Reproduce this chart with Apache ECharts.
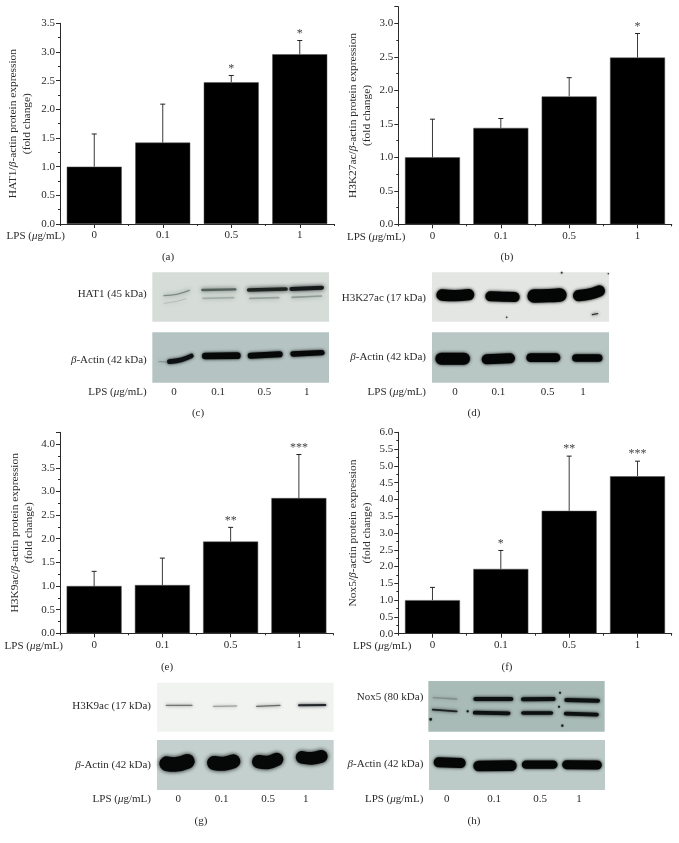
<!DOCTYPE html>
<html><head><meta charset="utf-8">
<style>html,body{margin:0;padding:0;background:#fff}#c{width:679px;height:843px}</style>
<script src="https://cdn.jsdelivr.net/npm/echarts@6/dist/echarts.min.js"></script>
</head><body><div id="c"></div>
<script>
// ---- data ----
const doses = ['0', '0.1', '0.5', '1'];

const hat1Means = [1.0, 1.42, 2.47, 2.96];
const hat1Tops  = [1.57, 2.09, 2.59, 3.2];
const hat1Stars = ['', '', '*', '*'];

const h3k27Means = [1.0, 1.44, 1.91, 2.49];
const h3k27Tops  = [1.57, 1.58, 2.19, 2.85];
const h3k27Stars = ['', '', '', '*'];

const h3k9Means = [1.0, 1.02, 1.94, 2.86];
const h3k9Tops  = [1.31, 1.59, 2.24, 3.78];
const h3k9Stars = ['', '', '**', '***'];

const nox5Means = [1.0, 1.93, 3.66, 4.69];
const nox5Tops  = [1.38, 2.48, 5.29, 5.14];
const nox5Stars = ['', '*', '**', '***'];

// ---- layout ----
const FONT = '"Liberation Serif","DejaVu Serif",serif';
const INK = '#2a2a2a';
const panels = [
  {name:'HAT1',  means:hat1Means,  tops:hat1Tops,  stars:hat1Stars,  max:3.5,  left:60,    top:23.3,  w:274,   h:200.7, lpsGap:-5, titleGap:26},
  {name:'H3K27ac',means:h3k27Means,tops:h3k27Tops, stars:h3k27Stars, max:3.25, left:398.3, top:6.7,   w:273.4, h:217.6, lpsGap:-7, titleGap:24},
  {name:'H3K9ac',means:h3k9Means,  tops:h3k9Tops,  stars:h3k9Stars,  max:4.25, left:60,    top:432.3, w:273,   h:201,   lpsGap:-3, titleGap:24},
  {name:'Nox5',  means:nox5Means,  tops:nox5Tops,  stars:nox5Stars,  max:6,    left:398.3, top:432.3, w:273.4, h:201.4, lpsGap:-13, titleGap:24}
];

const grid = [], xAxis = [], yAxis = [], series = [];
panels.forEach((p, i) => {
  grid.push({left:p.left, top:p.top, width:p.w, height:p.h, containLabel:false});
  const base = {
    type:'category', gridIndex:i, data:doses, position:'bottom',
    axisLine:{show:true, onZero:false, lineStyle:{color:INK, width:1}}
  };
  xAxis.push(Object.assign({}, base, {
    axisTick:{show:true, alignWithLabel:true, length:4, lineStyle:{color:INK}},
    axisLabel:{color:INK, fontFamily:FONT, fontSize:11, margin:6},
    name:'{t|LPS (}{i|\u03bc}{t|g/mL)}',
    nameLocation:'start', nameGap:p.lpsGap,
    nameTextStyle:{
      verticalAlign:'top', padding:[7,0,0,0],
      rich:{t:{fontFamily:FONT,fontSize:11,color:INK}, i:{fontFamily:FONT,fontSize:11,fontStyle:'italic',color:INK}}
    }
  }));
  xAxis.push(Object.assign({}, base, {
    axisTick:{show:true, alignWithLabel:false, length:2, lineStyle:{color:INK}},
    axisLabel:{show:false}
  }));
  const rich = {t:{fontFamily:FONT,fontSize:11.4,color:INK,lineHeight:14}, i:{fontFamily:FONT,fontSize:11.4,fontStyle:'italic',color:INK,lineHeight:14}};
  yAxis.push({
    type:'value', gridIndex:i, min:0, max:p.max, interval:0.5,
    splitLine:{show:false},
    axisLine:{show:true, lineStyle:{color:INK, width:1}},
    axisTick:{show:true, length:4, lineStyle:{color:INK}},
    minorTick:{show:true, splitNumber:2, length:2, lineStyle:{color:INK}},
    axisLabel:{color:INK, fontFamily:FONT, fontSize:11, margin:5,
      formatter:v => (Math.abs(v*2-Math.round(v*2))<1e-6 ? v.toFixed(1) : '')},
    name:'{t|'+p.name+'/}{i|\u03b2}{t|-actin protein expression}\n{t|(fold change)}',
    nameLocation:'middle', nameRotate:90, nameGap:p.titleGap,
    nameTextStyle:{rich:rich, align:'center'}
  });
  series.push({
    type:'bar', xAxisIndex:i*2, yAxisIndex:i, data:p.means, barWidth:55,
    itemStyle:{color:'#000', borderColor:'#555', borderWidth:0.5}, silent:true
  });
  series.push({
    type:'custom', xAxisIndex:i*2, yAxisIndex:i, silent:true, clip:false, z:3,
    data:p.tops.map((t,k)=>[k,t,p.means[k]]),
    renderItem:(params, api) => {
      const k = api.value(0);
      const a = api.coord([k, api.value(1)]);
      const b = api.coord([k, api.value(2)]);
      const kids = [
        {type:'line', shape:{x1:a[0],y1:a[1],x2:b[0],y2:b[1]}, style:{stroke:'#3a3a3a',lineWidth:1}},
        {type:'line', shape:{x1:a[0]-2.5,y1:a[1],x2:a[0]+2.5,y2:a[1]}, style:{stroke:'#222',lineWidth:1}}
      ];
      if (p.stars[k]) kids.push({type:'text', style:{text:p.stars[k], x:a[0], y:a[1]-1, align:'center', verticalAlign:'bottom',
        font:'12px '+FONT, fill:'#444'}});
      return {type:'group', children:kids};
    }
  });
});

// ---- photographed western-blot panels, painted as soft strokes ----
const graphic = [];
function panel(ox, oy, x0, y0, x1, y1, color){
  graphic.push({type:'rect', silent:true, z:1, shape:{x:ox+x0/3,y:oy+y0/3,width:(x1-x0)/3,height:(y1-y0)/3}, style:{fill:color}});
}
function band(ox, oy, pts, w, color, blur){
  graphic.push({type:'polyline', silent:true, z:2, shape:{points:pts.map(q=>[ox+q[0]/3,oy+q[1]/3]), smooth:pts.length>2?0.4:0},
    style:{fill:null, stroke:color, lineWidth:w/3, lineCap:'round', lineJoin:'round', shadowBlur:blur*2.2, shadowColor:color}});
}
function speck(ox, oy, x, y, r, color){
  graphic.push({type:'circle', silent:true, z:2, shape:{cx:ox+x/3,cy:oy+y/3,r:r}, style:{fill:color, shadowBlur:1.5, shadowColor:color}});
}
function label(x, y, parts, align){
  graphic.push({type:'text', silent:true, z:4, x:x, y:y, style:{rich:{t:{fontFamily:FONT,fontSize:11,fill:INK},i:{fontFamily:FONT,fontSize:11,fontStyle:'italic',fill:INK}},
    text:parts, align:align||'right', verticalAlign:'middle'}});
}
function caption(x, y, s){ label(x, y, '{t|'+s+'}', 'center'); }
const actinLabel = '{i|\u03b2}{t|-Actin (42 kDa)}';
const lpsLabel = '{t|LPS (}{i|\u03bc}{t|g/mL)}';
function laneLabels(ox, y, xs){ xs.forEach((x,k)=>label(ox+x/3, y, '{t|'+doses[k]+'}', 'center')); }

// (c)
let ox=0, oy=265;
panel(ox,oy,457,22,987,170,'#d6dcd8');
band(ox,oy,[[492,92],[530,88],[568,76]],4,'#7d8a86',2);
band(ox,oy,[[492,115],[525,110],[558,101]],3,'#b4bdb9',2);
band(ox,oy,[[607,75],[706,73]],7,'#54605c',2);
band(ox,oy,[[609,100],[701,98]],5,'#a4aeaa',2);
band(ox,oy,[[746,75],[858,72]],11,'#1c2220',2);
band(ox,oy,[[749,100],[836,98]],5,'#98a39f',2);
band(ox,oy,[[874,72],[966,68]],12,'#15191a',2);
band(ox,oy,[[876,97],[964,93]],5,'#8f9a96',2);
panel(ox,oy,457,202,987,353,'#b5c4c2');
band(ox,oy,[[477,290],[498,291]],3,'#7f8c8a',2);
band(ox,oy,[[508,290],[545,284],[574,273]],14,'#0c1010',1.5);
band(ox,oy,[[616,273],[712,272]],20,'#070909',1.5);
band(ox,oy,[[752,272],[839,268]],18,'#070909',1.5);
band(ox,oy,[[879,267],[966,263]],16,'#070909',1.5);
label(146.7,293.7,'{t|HAT1 (45 kDa)}'); label(146.7,360,actinLabel); label(146.7,391.7,lpsLabel);
laneLabels(0,391.7,[522,654,793,920]); caption(198,412.7,'(c)');

// (d)
ox=340; oy=265;
panel(ox,oy,276,22,807,170,'#e3e6e3');
band(ox,oy,[[306,90],[345,92],[386,89]],34,'#040505',1.5);
band(ox,oy,[[451,94],[490,95],[524,96]],30,'#040505',1.5);
band(ox,oy,[[582,93],[625,92],[660,90]],40,'#040505',1.5);
band(ox,oy,[[716,92],[750,87],[778,78]],34,'#040505',1.5);
band(ox,oy,[[757,149],[773,146]],4,'#333',1.5);
speck(ox,oy,500,157,0.8,'#444'); speck(ox,oy,665,23,0.9,'#333'); speck(ox,oy,805,26,0.7,'#333');
panel(ox,oy,276,202,807,353,'#b9c7c4');
band(ox,oy,[[304,281],[372,281]],36,'#040505',1.5);
band(ox,oy,[[440,283],[510,280]],30,'#040505',1.5);
band(ox,oy,[[572,278],[648,278]],26,'#040505',1.5);
band(ox,oy,[[708,279],[776,279]],23,'#040505',1.5);
label(426,297.7,'{t|H3K27ac (17 kDa)}'); label(426,357.3,actinLabel); label(426,391.7,lpsLabel);
laneLabels(340,391.7,[345,475,623,729]); caption(474,412.7,'(d)');

// (g)
ox=0; oy=670;
panel(ox,oy,471,38,1001,185,'#f1f3f1');
band(ox,oy,[[499,106],[576,106]],4,'#6f7573',1.5);
band(ox,oy,[[640,109],[710,108]],3,'#8b918f',1.5);
band(ox,oy,[[770,109],[840,106]],4,'#666c6a',1.5);
band(ox,oy,[[897,106],[976,105]],6,'#22262a',1.5);
panel(ox,oy,471,210,1001,360,'#c3d0cd');
band(ox,oy,[[500,281],[530,283],[562,274]],44,'#060707',2);
band(ox,oy,[[642,279],[672,281],[700,274]],42,'#060707',2);
band(ox,oy,[[776,275],[805,277],[830,268]],40,'#060707',2);
band(ox,oy,[[906,262],[935,265],[964,259]],38,'#060707',2);
label(151,705.7,'{t|H3K9ac (17 kDa)}'); label(151,764.7,actinLabel); label(151,799.3,lpsLabel);
laneLabels(0,799.3,[535,665,804,917]); caption(201,820.7,'(g)');

// (h)
ox=340; oy=670;
panel(ox,oy,265,33,794,185,'#a9bbb7');
band(ox,oy,[[280,83],[350,87]],4,'#7e8d8a',1.5);
band(ox,oy,[[278,119],[350,124]],5,'#1b2221',1.5);
band(ox,oy,[[406,87],[514,87]],12,'#0c1010',1.5);
band(ox,oy,[[404,128],[506,130]],11,'#0c1010',1.5);
band(ox,oy,[[549,88],[641,87]],12,'#0c1010',1.5);
band(ox,oy,[[549,129],[634,129]],11,'#0c1010',1.5);
band(ox,oy,[[679,90],[774,92]],12,'#0c1010',1.5);
band(ox,oy,[[677,131],[771,134]],11,'#0c1010',1.5);
[[272,148,1.3],[383,124,1.1],[660,68,1],[657,110,1],[667,167,1.1]].forEach(s=>speck(ox,oy,s[0],s[1],s[2],'#151a19'));
panel(ox,oy,267,210,795,360,'#bccbc7');
band(ox,oy,[[296,277],[362,279]],30,'#050606',1.5);
band(ox,oy,[[416,288],[514,287]],32,'#050606',1.5);
band(ox,oy,[[558,284],[640,284]],25,'#050606',1.5);
band(ox,oy,[[680,284],[772,285]],27,'#050606',1.5);
label(423.3,696.7,'{t|Nox5 (80 kDa)}'); label(423.3,764,actinLabel); label(423.3,799.3,lpsLabel);
laneLabels(340,799.3,[320,462,600,717]); caption(474,820.7,'(h)');

// captions of the bar charts
caption(168,257,'(a)'); caption(507,257,'(b)'); caption(167,667,'(e)'); caption(507,667,'(f)');

const chart = echarts.init(document.getElementById('c'), null, {renderer:'canvas'});
chart.setOption({animation:false, backgroundColor:'#fff', grid, xAxis, yAxis, series, graphic});
</script></body></html>
